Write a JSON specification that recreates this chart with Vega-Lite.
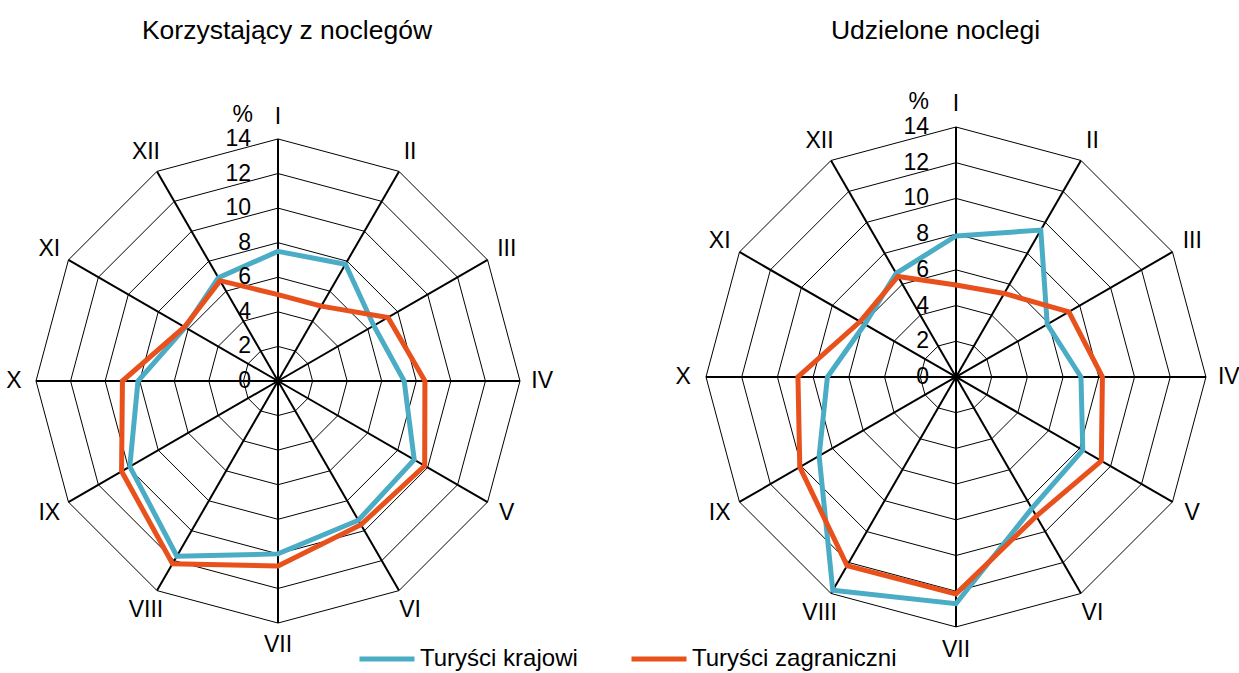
{
  "$schema": "https://vega.github.io/schema/vega-lite/v6.json",
  "padding": {"left": 0, "top": 18, "right": 0, "bottom": 0},
  "spacing": 10,
  "config": {
    "font": "Liberation Sans",
    "view": {"stroke": null},
    "axis": {"disable": true},
    "title": {"fontSize": 26.5, "fontWeight": "normal", "color": "black", "offset": 7.5}
  },
  "datasets": {
    "obs": [
      {"panel": "K", "seria": "Turyści krajowi", "m": 1, "v": 7.5},
      {"panel": "K", "seria": "Turyści krajowi", "m": 2, "v": 7.8},
      {"panel": "K", "seria": "Turyści krajowi", "m": 3, "v": 6.4},
      {"panel": "K", "seria": "Turyści krajowi", "m": 4, "v": 7.3},
      {"panel": "K", "seria": "Turyści krajowi", "m": 5, "v": 9.1},
      {"panel": "K", "seria": "Turyści krajowi", "m": 6, "v": 9.3},
      {"panel": "K", "seria": "Turyści krajowi", "m": 7, "v": 10.0},
      {"panel": "K", "seria": "Turyści krajowi", "m": 8, "v": 11.7},
      {"panel": "K", "seria": "Turyści krajowi", "m": 9, "v": 9.9},
      {"panel": "K", "seria": "Turyści krajowi", "m": 10, "v": 8.1},
      {"panel": "K", "seria": "Turyści krajowi", "m": 11, "v": 6.2},
      {"panel": "K", "seria": "Turyści krajowi", "m": 12, "v": 6.9},
      {"panel": "K", "seria": "Turyści zagraniczni", "m": 1, "v": 5.0},
      {"panel": "K", "seria": "Turyści zagraniczni", "m": 2, "v": 5.0},
      {"panel": "K", "seria": "Turyści zagraniczni", "m": 3, "v": 7.35},
      {"panel": "K", "seria": "Turyści zagraniczni", "m": 4, "v": 8.5},
      {"panel": "K", "seria": "Turyści zagraniczni", "m": 5, "v": 9.8},
      {"panel": "K", "seria": "Turyści zagraniczni", "m": 6, "v": 9.6},
      {"panel": "K", "seria": "Turyści zagraniczni", "m": 7, "v": 10.7},
      {"panel": "K", "seria": "Turyści zagraniczni", "m": 8, "v": 12.2},
      {"panel": "K", "seria": "Turyści zagraniczni", "m": 9, "v": 10.45},
      {"panel": "K", "seria": "Turyści zagraniczni", "m": 10, "v": 9.0},
      {"panel": "K", "seria": "Turyści zagraniczni", "m": 11, "v": 6.25},
      {"panel": "K", "seria": "Turyści zagraniczni", "m": 12, "v": 6.7},
      {"panel": "U", "seria": "Turyści krajowi", "m": 1, "v": 7.9},
      {"panel": "U", "seria": "Turyści krajowi", "m": 2, "v": 9.5},
      {"panel": "U", "seria": "Turyści krajowi", "m": 3, "v": 5.9},
      {"panel": "U", "seria": "Turyści krajowi", "m": 4, "v": 7.0},
      {"panel": "U", "seria": "Turyści krajowi", "m": 5, "v": 8.2},
      {"panel": "U", "seria": "Turyści krajowi", "m": 6, "v": 8.5},
      {"panel": "U", "seria": "Turyści krajowi", "m": 7, "v": 12.7},
      {"panel": "U", "seria": "Turyści krajowi", "m": 8, "v": 13.8},
      {"panel": "U", "seria": "Turyści krajowi", "m": 9, "v": 8.85},
      {"panel": "U", "seria": "Turyści krajowi", "m": 10, "v": 7.2},
      {"panel": "U", "seria": "Turyści krajowi", "m": 11, "v": 5.9},
      {"panel": "U", "seria": "Turyści krajowi", "m": 12, "v": 6.7},
      {"panel": "U", "seria": "Turyści zagraniczni", "m": 1, "v": 5.15},
      {"panel": "U", "seria": "Turyści zagraniczni", "m": 2, "v": 5.4},
      {"panel": "U", "seria": "Turyści zagraniczni", "m": 3, "v": 7.3},
      {"panel": "U", "seria": "Turyści zagraniczni", "m": 4, "v": 8.2},
      {"panel": "U", "seria": "Turyści zagraniczni", "m": 5, "v": 9.4},
      {"panel": "U", "seria": "Turyści zagraniczni", "m": 6, "v": 9.0},
      {"panel": "U", "seria": "Turyści zagraniczni", "m": 7, "v": 12.15},
      {"panel": "U", "seria": "Turyści zagraniczni", "m": 8, "v": 12.2},
      {"panel": "U", "seria": "Turyści zagraniczni", "m": 9, "v": 10.1},
      {"panel": "U", "seria": "Turyści zagraniczni", "m": 10, "v": 8.85},
      {"panel": "U", "seria": "Turyści zagraniczni", "m": 11, "v": 6.2},
      {"panel": "U", "seria": "Turyści zagraniczni", "m": 12, "v": 6.5}
    ],
    "grid": [
      {"level": 2, "m": [1, 2, 3, 4, 5, 6, 7, 8, 9, 10, 11, 12]},
      {"level": 4, "m": [1, 2, 3, 4, 5, 6, 7, 8, 9, 10, 11, 12]},
      {"level": 6, "m": [1, 2, 3, 4, 5, 6, 7, 8, 9, 10, 11, 12]},
      {"level": 8, "m": [1, 2, 3, 4, 5, 6, 7, 8, 9, 10, 11, 12]},
      {"level": 10, "m": [1, 2, 3, 4, 5, 6, 7, 8, 9, 10, 11, 12]},
      {"level": 12, "m": [1, 2, 3, 4, 5, 6, 7, 8, 9, 10, 11, 12]},
      {"level": 14, "m": [1, 2, 3, 4, 5, 6, 7, 8, 9, 10, 11, 12]}
    ],
    "months": [
      {"m": 1, "label": "I"}, {"m": 2, "label": "II"}, {"m": 3, "label": "III"},
      {"m": 4, "label": "IV"}, {"m": 5, "label": "V"}, {"m": 6, "label": "VI"},
      {"m": 7, "label": "VII"}, {"m": 8, "label": "VIII"}, {"m": 9, "label": "IX"},
      {"m": 10, "label": "X"}, {"m": 11, "label": "XI"}, {"m": 12, "label": "XII"}
    ],
    "ticks": [
      {"v": 0}, {"v": 2}, {"v": 4}, {"v": 6}, {"v": 8}, {"v": 10}, {"v": 12}, {"v": 14}
    ],
    "unit": [{"label": "%"}]
  },
  "hconcat": [
    {
      "width": 556,
      "height": 621,
      "title": {"text": "Korzystający z noclegów", "dx": 9},
      "layer": [
        {
          "data": {"name": "grid"},
          "transform": [
            {"flatten": ["m"]},
            {"calculate": "datum.level*sin((datum.m-1)*PI/6)", "as": "x"},
            {"calculate": "datum.level*cos((datum.m-1)*PI/6)", "as": "y"}
          ],
          "mark": {"type": "line", "interpolate": "linear-closed", "color": "black", "strokeWidth": 1},
          "encoding": {
            "x": {"field": "x", "type": "quantitative", "scale": {"domain": [-16.083, 16.083], "nice": false, "zero": false}},
            "y": {"field": "y", "type": "quantitative", "scale": {"domain": [-16.89, 19.03], "nice": false, "zero": false}},
            "detail": {"field": "level", "type": "nominal"},
            "order": {"field": "m", "type": "quantitative"}
          }
        },
        {
          "data": {"name": "months"},
          "transform": [
            {"calculate": "0", "as": "x0"},
            {"calculate": "14*sin((datum.m-1)*PI/6)", "as": "x2"},
            {"calculate": "14*cos((datum.m-1)*PI/6)", "as": "y2"}
          ],
          "mark": {"type": "rule", "color": "black", "strokeWidth": 2},
          "encoding": {
            "x": {"field": "x0", "type": "quantitative"},
            "y": {"field": "x0", "type": "quantitative"},
            "x2": {"field": "x2"},
            "y2": {"field": "y2"}
          }
        },
        {
          "data": {"name": "obs"},
          "transform": [
            {"filter": "datum.panel === 'K'"},
            {"calculate": "datum.v*sin((datum.m-1)*PI/6)", "as": "x"},
            {"calculate": "datum.v*cos((datum.m-1)*PI/6)", "as": "y"}
          ],
          "mark": {"type": "line", "interpolate": "linear-closed", "strokeWidth": 5, "strokeJoin": "miter"},
          "encoding": {
            "x": {"field": "x", "type": "quantitative"},
            "y": {"field": "y", "type": "quantitative"},
            "color": {
              "field": "seria", "type": "nominal",
              "scale": {"domain": ["Turyści krajowi", "Turyści zagraniczni"], "range": ["#4BACC6", "#E8501C"]},
              "legend": {
                "title": null, "orient": "none", "direction": "horizontal",
                "legendX": 357, "legendY": 577, "padding": 0,
                "symbolType": "stroke", "symbolSize": 3025, "symbolStrokeWidth": 5,
                "labelFontSize": 24, "labelOffset": 3, "columnPadding": 43, "labelColor": "black",
                "labelLimit": 400
              }
            },
            "order": {"field": "m", "type": "quantitative"}
          }
        },
        {
          "data": {"name": "months"},
          "transform": [
            {"calculate": "15.28*sin((datum.m-1)*PI/6)", "as": "x"},
            {"calculate": "15.28*cos((datum.m-1)*PI/6)", "as": "y"}
          ],
          "mark": {"type": "text", "fontSize": 23, "align": "center", "baseline": "middle", "color": "black"},
          "encoding": {
            "x": {"field": "x", "type": "quantitative"},
            "y": {"field": "y", "type": "quantitative"},
            "text": {"field": "label", "type": "nominal"}
          }
        },
        {
          "data": {"name": "ticks"},
          "transform": [{"calculate": "0", "as": "x0"}],
          "mark": {"type": "text", "fontSize": 23, "align": "right", "baseline": "middle", "dx": -27, "color": "black"},
          "encoding": {
            "x": {"field": "x0", "type": "quantitative"},
            "y": {"field": "v", "type": "quantitative"},
            "text": {"field": "v", "type": "quantitative"}
          }
        },
        {
          "data": {"name": "unit"},
          "transform": [{"calculate": "0", "as": "x0"}, {"calculate": "15.4", "as": "y0"}],
          "mark": {"type": "text", "fontSize": 23, "align": "right", "baseline": "middle", "dx": -25, "color": "black"},
          "encoding": {
            "x": {"field": "x0", "type": "quantitative"},
            "y": {"field": "y0", "type": "quantitative"},
            "text": {"field": "label", "type": "nominal"}
          }
        }
      ]
    },
    {
      "width": 673,
      "height": 621,
      "title": {"text": "Udzielone noclegi", "dx": 33},
      "layer": [
        {
          "data": {"name": "grid"},
          "transform": [
            {"flatten": ["m"]},
            {"calculate": "datum.level*sin((datum.m-1)*PI/6)", "as": "x"},
            {"calculate": "datum.level*cos((datum.m-1)*PI/6)", "as": "y"}
          ],
          "mark": {"type": "line", "interpolate": "linear-closed", "color": "black", "strokeWidth": 1},
          "encoding": {
            "x": {"field": "x", "type": "quantitative", "scale": {"domain": [-21.84, 15.85], "nice": false, "zero": false}},
            "y": {"field": "y", "type": "quantitative", "scale": {"domain": [-16.58, 18.2], "nice": false, "zero": false}},
            "detail": {"field": "level", "type": "nominal"},
            "order": {"field": "m", "type": "quantitative"}
          }
        },
        {
          "data": {"name": "months"},
          "transform": [
            {"calculate": "0", "as": "x0"},
            {"calculate": "14*sin((datum.m-1)*PI/6)", "as": "x2"},
            {"calculate": "14*cos((datum.m-1)*PI/6)", "as": "y2"}
          ],
          "mark": {"type": "rule", "color": "black", "strokeWidth": 2},
          "encoding": {
            "x": {"field": "x0", "type": "quantitative"},
            "y": {"field": "x0", "type": "quantitative"},
            "x2": {"field": "x2"},
            "y2": {"field": "y2"}
          }
        },
        {
          "data": {"name": "obs"},
          "transform": [
            {"filter": "datum.panel === 'U'"},
            {"calculate": "datum.v*sin((datum.m-1)*PI/6)", "as": "x"},
            {"calculate": "datum.v*cos((datum.m-1)*PI/6)", "as": "y"}
          ],
          "mark": {"type": "line", "interpolate": "linear-closed", "strokeWidth": 5, "strokeJoin": "miter"},
          "encoding": {
            "x": {"field": "x", "type": "quantitative"},
            "y": {"field": "y", "type": "quantitative"},
            "color": {"field": "seria", "type": "nominal"},
            "order": {"field": "m", "type": "quantitative"}
          }
        },
        {
          "data": {"name": "months"},
          "transform": [
            {"calculate": "15.28*sin((datum.m-1)*PI/6)", "as": "x"},
            {"calculate": "15.28*cos((datum.m-1)*PI/6)", "as": "y"}
          ],
          "mark": {"type": "text", "fontSize": 23, "align": "center", "baseline": "middle", "color": "black"},
          "encoding": {
            "x": {"field": "x", "type": "quantitative"},
            "y": {"field": "y", "type": "quantitative"},
            "text": {"field": "label", "type": "nominal"}
          }
        },
        {
          "data": {"name": "ticks"},
          "transform": [{"calculate": "0", "as": "x0"}],
          "mark": {"type": "text", "fontSize": 23, "align": "right", "baseline": "middle", "dx": -27, "color": "black"},
          "encoding": {
            "x": {"field": "x0", "type": "quantitative"},
            "y": {"field": "v", "type": "quantitative"},
            "text": {"field": "v", "type": "quantitative"}
          }
        },
        {
          "data": {"name": "unit"},
          "transform": [{"calculate": "0", "as": "x0"}, {"calculate": "15.4", "as": "y0"}],
          "mark": {"type": "text", "fontSize": 23, "align": "right", "baseline": "middle", "dx": -27, "color": "black"},
          "encoding": {
            "x": {"field": "x0", "type": "quantitative"},
            "y": {"field": "y0", "type": "quantitative"},
            "text": {"field": "label", "type": "nominal"}
          }
        }
      ]
    }
  ]
}
